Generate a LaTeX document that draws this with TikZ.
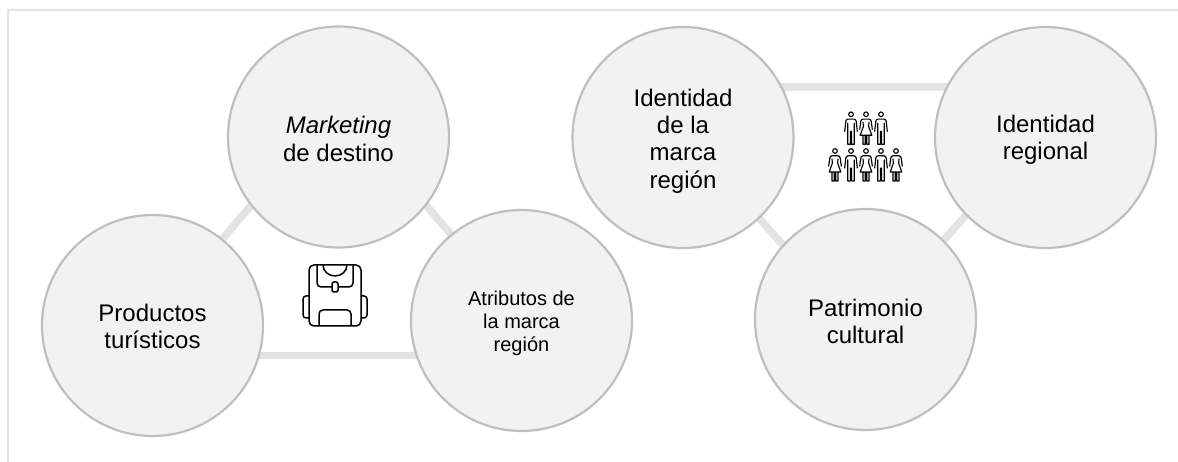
\documentclass[tikz,border=0pt]{standalone}
\usepackage{fontspec}
\setmainfont{Liberation Sans}
\definecolor{cfill}{HTML}{F2F2F2}
\definecolor{cedge}{HTML}{BFBFBF}
\definecolor{clink}{HTML}{E3E3E3}
\tikzset{
  bubble/.style={circle,draw=cedge,fill=cfill,line width=2.2pt,minimum size=221pt,inner sep=0pt},
  btext/.style={inner sep=0pt,align=center,font=\fontsize{24}{27.3}\selectfont},
  small/.style={font=\fontsize{20}{23}\selectfont},
  link/.style={draw=clink,line width=7.5pt},
  frameline/.style={draw=clink,line width=1.5pt},
  icon/.style={draw=black,line width=1.5pt,line join=round,fill=none},
  person/.pic={\draw[line width=1.15pt,line join=round,line cap=round] (0,0) circle (2.3)
     (-6.3,17) -- (-5.2,7) to[out=80,in=180] (-3,4.8) -- (3,4.8) to[out=0,in=100] (5.2,7) -- (6.3,17)
     (-3.3,9) -- (-3.3,30) -- (-.6,30) -- (-.6,17) (3.3,9) -- (3.3,30) -- (.6,30) -- (.6,17);},
  womanp/.pic={\draw[line width=1.15pt,line join=round,line cap=round] (0,0) circle (2.3)
     (-6.3,15) -- (-5.2,7) to[out=80,in=180] (-3,4.8) -- (3,4.8) to[out=0,in=100] (5.2,7) -- (6.3,15)
     (-3,8) -- (-2.6,12) -- (-5.8,21) -- (5.8,21) -- (2.6,12) -- (3,8)
     (-3,21) -- (-3,30) -- (-.8,30) -- (-.8,21) (3,21) -- (3,30) -- (.8,30) -- (.8,21);}
}
\begin{document}
\begin{tikzpicture}[x=1pt,y=-1pt]
\useasboundingbox (0,0) rectangle (1178,462);
\fill[white] (0,0) rectangle (1178,462);
\coordinate (fa) at (8,462); \coordinate (fb) at (8,10); \coordinate (fc) at (1178,10);
\draw[frameline] (fa) -- (fb) -- (fc);
% connector ends, hidden under the circles
\coordinate (m1) at (258,197); \coordinate (p1) at (215,248);
\coordinate (m2) at (420,198); \coordinate (a1) at (460,245);
\coordinate (p2) at (240,355.5); \coordinate (a2) at (430,355.5);
\coordinate (i1) at (770,87); \coordinate (r1) at (950,87);
\coordinate (i2) at (750,208); \coordinate (c1) at (790,253);
\coordinate (r2) at (975,205); \coordinate (c2) at (935,250);
\draw[link] (m1) -- (p1);
\draw[link] (m2) -- (a1);
\draw[link] (p2) -- (a2);
\draw[link] (i1) -- (r1);
\draw[link] (i2) -- (c1);
\draw[link] (r2) -- (c2);
\node[bubble] (m) at (338.5,137) {};
\node[bubble] (p) at (152.5,325.5) {};
\node[bubble] (a) at (521.5,320.5) {};
\node[bubble] (i) at (683,137.5) {};
\node[bubble] (r) at (1045.5,137.5) {};
\node[bubble] (c) at (865.5,319.5) {};
\node[btext] (mt) at ([yshift=-2pt]m.center) {\textit{Marketing}\\de destino};
\node[btext] (pt) at ([yshift=-.7pt]p.center) {Productos\\turísticos};
\node[btext,small] (at) at ([yshift=-2.5pt]a.center) {Atributos de\\la marca\\región};
\node[btext] (it) at ([yshift=-3.5pt]i.center) {Identidad\\de la\\marca\\región};
\node[btext] (rt) at ([yshift=-2pt]r.center) {Identidad\\regional};
\node[btext] (ct) at ([yshift=-2pt]c.center) {Patrimonio\\cultural};
% backpack
\begin{scope}[shift={(335,265)}]
\draw[icon,rounded corners=5pt] (-26,0) rectangle (26,61);
\draw[icon] (-12,0) arc (180:0:12 and 11);
\draw[icon,rounded corners=4pt] (-18,0) -- (-18,22) -- (-3,22) (3,22) -- (18,22) -- (18,0);
\draw[icon,rounded corners=2pt] (-3,17) rectangle (3,27);
\draw[icon,rounded corners=4pt] (-16,61) -- (-16,45) -- (16,45) -- (16,61);
\draw[icon,rounded corners=3pt] (-26,31) -- (-32,31) -- (-32,53) -- (-26,53);
\draw[icon,rounded corners=3pt] (26,31) -- (32,31) -- (32,53) -- (26,53);
\end{scope}
\path (851,114.3) pic {person} (866,114.3) pic {womanp} (881,114.3) pic {person};
\path (835,151) pic {womanp} (851,151) pic {person} (866,151) pic {womanp} (881,151) pic {person} (896,151) pic {womanp};
\end{tikzpicture}
\end{document}
